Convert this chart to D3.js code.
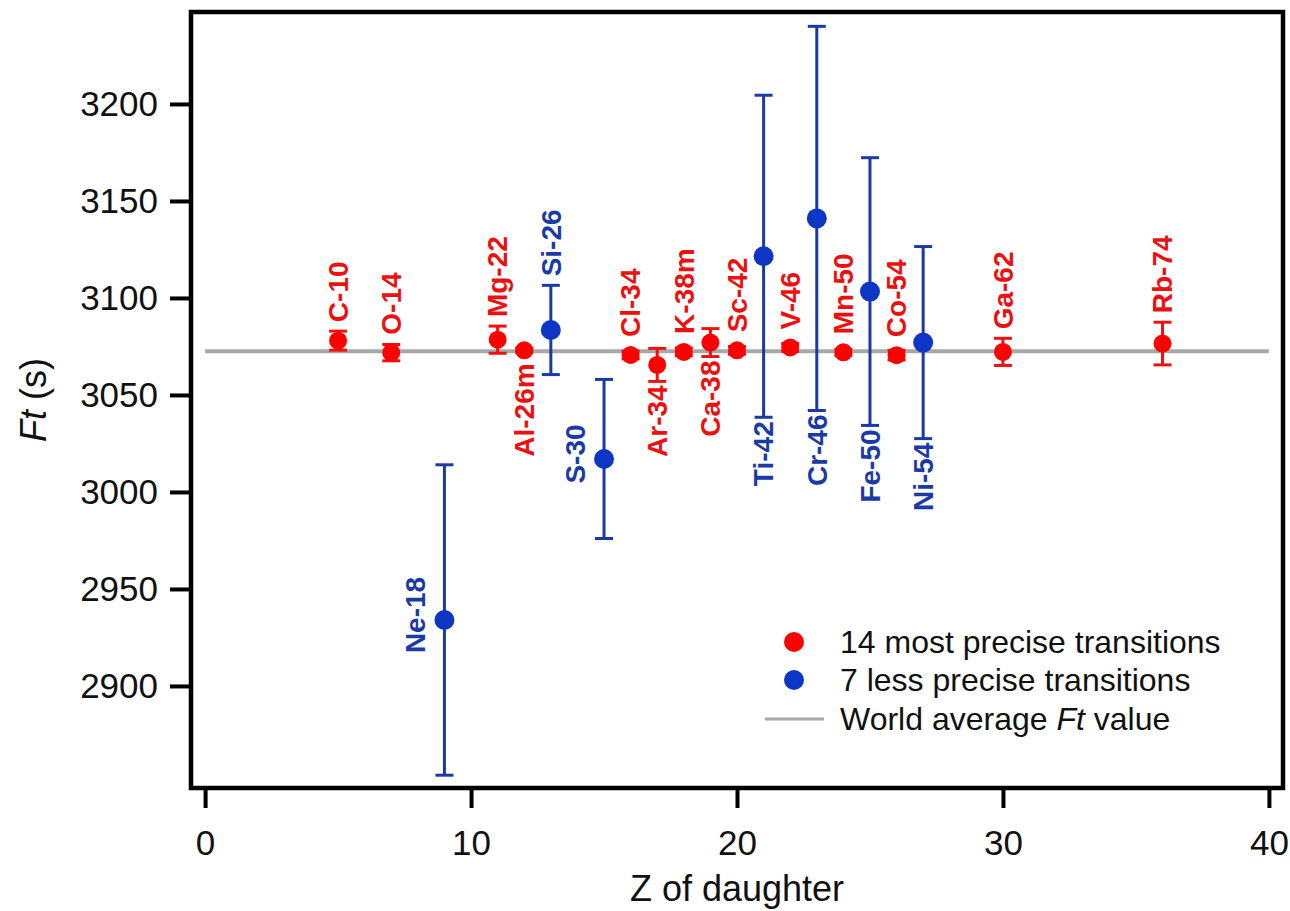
<!DOCTYPE html>
<html>
<head>
<meta charset="utf-8">
<script src="https://cdn.jsdelivr.net/npm/d3@7/dist/d3.min.js"></script>
<style>
  html, body { margin: 0; padding: 0; background: #ffffff; }
  svg { display: block; font-family: "Liberation Sans", Arial, Helvetica, sans-serif; }
</style>
</head>
<body>
<svg id="chart" width="1290" height="911"></svg>
<script>
// Superallowed 0+ -> 0+ transitions: corrected Ft values with uncertainties
const nuclides   = ["C-10", "O-14", "Ne-18", "Mg-22", "Al-26m", "Si-26", "S-30", "Cl-34", "Ar-34", "K-38m",
                    "Ca-38", "Sc-42", "Ti-42", "V-46", "Cr-46", "Mn-50", "Fe-50", "Co-54", "Ni-54", "Ga-62", "Rb-74"];
const zDaughter  = [5, 7, 9, 11, 12, 13, 15, 16, 17, 18, 19, 20, 21, 22, 23, 24, 25, 26, 27, 30, 36];
const ftValues   = [3078.0, 3071.8, 2934.0, 3078.5, 3073.0, 3083.5, 3017.0, 3070.6, 3065.5, 3072.2,
                    3077.0, 3073.0, 3121.5, 3074.5, 3141.0, 3072.0, 3103.3, 3070.5, 3077.0, 3072.2, 3076.5];
const ftErrors   = [4.9, 4.2, 80, 7.0, 1.1, 23, 41, 2.0, 8.5, 2.0,
                    7.2, 2.0, 83, 2.0, 99, 1.6, 69, 2.5, 49.5, 7.0, 11];
// "precise" = one of the 14 most precise transitions, "less" = one of the 7 less precise ones
const precision  = ["precise", "precise", "less", "precise", "precise", "less", "less", "precise", "precise", "precise",
                    "precise", "precise", "less", "precise", "less", "precise", "less", "precise", "less", "precise", "precise"];
const labelSide  = ["above", "above", "left", "above", "below", "above", "left", "above", "below", "above",
                    "below", "above", "below", "above", "below", "above", "below", "above", "below", "above", "above"];
const worldAverageFt = 3072.5;

const xTicks = [0, 10, 20, 30, 40];
const yTicks = [2900, 2950, 3000, 3050, 3100, 3150, 3200];
const legendItems = ["14 most precise transitions", "7 less precise transitions"];

const colors = { precise: "#ff0000", less: "#0e36c4" };
const textColors = { precise: "#ec1010", less: "#1a3aa6" };

const frame = { left: 191, top: 12, right: 1283, bottom: 788 };

const svg = d3.select("#chart");

const x = d3.scaleLinear().domain([-0.53, 40.53]).range([frame.left, frame.right]);
const y = d3.scaleLinear().domain([2847.4, 3247.4]).range([frame.bottom, frame.top]);

const points = nuclides.map((name, i) => ({
  name, z: zDaughter[i], ft: ftValues[i], err: ftErrors[i], group: precision[i], side: labelSide[i]
}));

// World average reference line
svg.append("line")
  .attr("x1", x(0)).attr("x2", x(40))
  .attr("y1", y(worldAverageFt)).attr("y2", y(worldAverageFt))
  .attr("stroke", "#a8a8a8").attr("stroke-width", 4);

// Error bars
const bars = svg.append("g").selectAll("g").data(points).join("g")
  .attr("stroke", d => colors[d.group] === "#ff0000" ? "#f01010" : "#1a3aa8")
  .attr("stroke-width", 3);
bars.append("line")
  .attr("x1", d => x(d.z)).attr("x2", d => x(d.z))
  .attr("y1", d => y(d.ft + d.err)).attr("y2", d => y(d.ft - d.err));
bars.append("line")
  .attr("x1", d => x(d.z) - 9).attr("x2", d => x(d.z) + 9)
  .attr("y1", d => y(d.ft + d.err)).attr("y2", d => y(d.ft + d.err));
bars.append("line")
  .attr("x1", d => x(d.z) - 9).attr("x2", d => x(d.z) + 9)
  .attr("y1", d => y(d.ft - d.err)).attr("y2", d => y(d.ft - d.err));

// Markers
const radius = { precise: 9, less: 10 };
svg.append("g").selectAll("circle").data(points).join("circle")
  .attr("cx", d => x(d.z)).attr("cy", d => y(d.ft))
  .attr("r", d => radius[d.group])
  .attr("fill", d => colors[d.group]);

// Nuclide labels, written vertically
const labelSize = 28;
svg.append("g").selectAll("text").data(points).join("text")
  .attr("font-size", labelSize)
  .attr("font-weight", "bold")
  .attr("fill", d => textColors[d.group])
  .attr("dy", "0.35em")
  .attr("text-anchor", d => d.side === "above" ? "start" : d.side === "below" ? "end" : "middle")
  .attr("transform", d => {
    const cx = x(d.z);
    const r = radius[d.group];
    if (d.side === "above") {
      const top = Math.min(y(d.ft + d.err), y(d.ft) - r);
      return `translate(${cx},${top - 9}) rotate(-90)`;
    }
    if (d.side === "below") {
      const bottom = Math.max(y(d.ft - d.err), y(d.ft) + r);
      return `translate(${cx},${bottom + 4}) rotate(-90)`;
    }
    return `translate(${cx - 29},${y(d.ft) - 5}) rotate(-90)`;
  })
  .text(d => d.name);

// Axes
const yAxis = svg.append("g")
  .attr("transform", `translate(${frame.left},0)`)
  .call(d3.axisLeft(y).tickValues(yTicks).tickSize(21).tickPadding(12).tickFormat(d3.format("d")));
const xAxis = svg.append("g")
  .attr("transform", `translate(0,${frame.bottom})`)
  .call(d3.axisBottom(x).tickValues(xTicks).tickSize(20).tickPadding(22).tickFormat(d3.format("d")));
[yAxis, xAxis].forEach(g => {
  g.select(".domain").remove();
  g.selectAll(".tick line").attr("stroke", "#000").attr("stroke-width", 4);
  g.selectAll(".tick text").attr("fill", "#111").attr("font-size", 35)
    .attr("font-family", "'Liberation Sans', Arial, sans-serif");
});

// Plot frame
svg.append("rect")
  .attr("x", frame.left).attr("y", frame.top)
  .attr("width", frame.right - frame.left).attr("height", frame.bottom - frame.top)
  .attr("fill", "none").attr("stroke", "#000").attr("stroke-width", 4.5);

// Axis titles
svg.append("text")
  .attr("x", (x(0) + x(40)) / 2).attr("y", 901)
  .attr("text-anchor", "middle").attr("font-size", 36).attr("fill", "#111")
  .text("Z of daughter");

const yTitle = svg.append("text")
  .attr("transform", `translate(46,${(frame.top + frame.bottom) / 2}) rotate(-90)`)
  .attr("text-anchor", "middle").attr("font-size", 36).attr("fill", "#111");
yTitle.append("tspan").attr("font-style", "italic").text("Ft");
yTitle.append("tspan").text(" (s)");

// Legend
const legend = svg.append("g").attr("transform", "translate(794,0)");
const legendRows = [642, 680, 719];
legendItems.forEach((label, i) => {
  const key = i === 0 ? "precise" : "less";
  legend.append("circle").attr("cx", 0).attr("cy", legendRows[i]).attr("r", 10).attr("fill", colors[key]);
  legend.append("text").attr("x", 46).attr("y", legendRows[i]).attr("dy", "0.35em")
    .attr("font-size", 32).attr("fill", "#111").text(label);
});
legend.append("line").attr("x1", -29).attr("x2", 30)
  .attr("y1", legendRows[2]).attr("y2", legendRows[2])
  .attr("stroke", "#a8a8a8").attr("stroke-width", 3);
const avgLabel = legend.append("text").attr("x", 46).attr("y", legendRows[2]).attr("dy", "0.35em")
  .attr("font-size", 32).attr("fill", "#111");
avgLabel.append("tspan").text("World average ");
avgLabel.append("tspan").attr("font-style", "italic").text("Ft");
avgLabel.append("tspan").text(" value");
</script>
</body>
</html>
